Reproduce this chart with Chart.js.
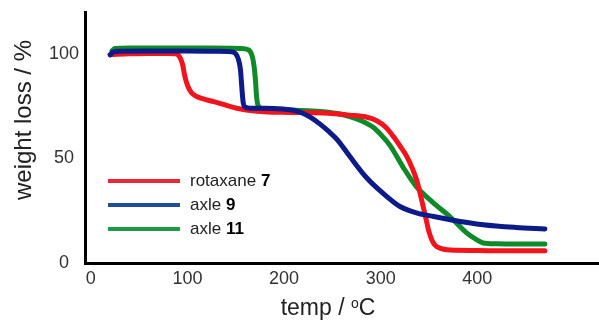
<!DOCTYPE html>
<html lang="en">
<head>
  <meta charset="UTF-8">
  <title>TGA weight loss</title>
  <script src="https://cdn.jsdelivr.net/npm/chart.js"></script>
  <style>
    body {
      margin: 0;
      padding: 0;
      background-color: #fff;
    }
    canvas {
      display: block;
    }
  </style>
</head>
<body>

  <canvas id="tgaChart" width="599" height="322"></canvas>

  <script>
    // series (temp in oC, weight in %)
    var redTemp = [20, 40, 60, 80, 88, 92, 95, 97, 100, 104, 110, 120, 130, 151, 172, 206, 240, 268, 285, 296, 305, 313, 320, 327, 333, 337, 341, 344, 347, 350, 353, 356, 362, 372, 400, 440, 470];
    var redWeight = [99.6, 100, 100.2, 100.2, 100, 98.5, 95, 90, 85, 81.5, 79.5, 78, 76.8, 74, 72.6, 72, 71.7, 70.7, 69.8, 68, 65, 60.6, 56, 51, 45, 40, 33, 27, 21, 15, 11, 8.7, 7, 6.2, 6, 5.8, 5.8];

    var blueTemp = [20, 23, 30, 60, 100, 130, 145, 150, 153, 155, 156, 157, 158, 160, 165, 180, 199, 210, 220, 228, 237, 246, 255, 268, 285, 302, 320, 337, 355, 372, 406, 440, 470];
    var blueWeight = [99.5, 100.8, 101.2, 101.3, 101.3, 101.2, 101, 100, 97, 92, 86, 80, 76, 74.5, 74, 74, 73.6, 73, 71.5, 69.5, 66.5, 63, 59, 51, 41, 33.5, 27, 24, 22.2, 20.7, 18.3, 17, 16.3];

    var greenTemp = [22, 25, 40, 80, 120, 155, 163, 167, 169, 170.5, 171.5, 173, 176, 182, 200, 234, 255, 268, 280, 292, 301, 310, 323, 337, 354, 372, 389, 398, 406, 420, 440, 470];
    var greenWeight = [101.5, 102.5, 102.8, 102.8, 102.8, 102.6, 102, 99, 94, 87, 80, 75.5, 74, 73.5, 73.2, 72.6, 71.5, 70, 68, 65, 61, 56, 46, 36.5, 29, 22, 14.4, 11.5, 9.6, 9.2, 9.1, 9.1];

    var seriesNames = ['rotaxane', 'axle', 'axle'];
    var seriesNumbers = ['7', '9', '11'];
    var lineColors = ['#f2141c', '#0c1a8a', '#0f8a28'];
    var legendColors = ['#e8283a', '#1f4d9a', '#1c9a48'];

    var xTicks = [0, 100, 200, 300, 400];
    var yTicks = [0, 50, 100];

    function toPoints(xs, ys) {
      return xs.map(function (x, i) { return { x: x, y: ys[i] }; });
    }

    // legend and axis titles drawn by hand
    var extrasPlugin = {
      id: 'extras',
      afterDraw: function (chart) {
        var ctx = chart.ctx;
        var area = chart.chartArea;
        ctx.save();

        // legend inside the plot
        [0, 1, 2].forEach(function (i) {
          var y = area.top + 169 + i * 24;
          var x0 = area.left + 23;
          ctx.strokeStyle = legendColors[i];
          ctx.lineWidth = 4;
          ctx.beginPath();
          ctx.moveTo(x0, y);
          ctx.lineTo(x0 + 72, y);
          ctx.stroke();

          ctx.textBaseline = 'middle';
          ctx.textAlign = 'left';
          ctx.font = '17px "Liberation Sans", Arial, sans-serif';
          ctx.fillStyle = '#222';
          var txt = seriesNames[i] + ' ';
          ctx.fillText(txt, x0 + 82, y);
          var w = ctx.measureText(txt).width;
          ctx.font = 'bold 17px "Liberation Sans", Arial, sans-serif';
          ctx.fillStyle = '#000';
          ctx.fillText(seriesNumbers[i], x0 + 82 + w, y);
        });

        // x title: temp / oC
        ctx.fillStyle = '#222';
        ctx.textBaseline = 'middle';
        ctx.font = '23px "Liberation Sans", Arial, sans-serif';
        var t1 = 'temp / ';
        var w1 = ctx.measureText(t1).width;
        ctx.font = '14px "Liberation Sans", Arial, sans-serif';
        var wo = ctx.measureText('o').width;
        ctx.font = '23px "Liberation Sans", Arial, sans-serif';
        var wc = ctx.measureText('C').width;
        var total = w1 + wo + wc;
        var xs = 328 - total / 2;
        var ty = 309;
        ctx.textAlign = 'left';
        ctx.fillText(t1, xs, ty);
        ctx.font = '14px "Liberation Sans", Arial, sans-serif';
        ctx.fillText('o', xs + w1, ty - 5);
        ctx.font = '23px "Liberation Sans", Arial, sans-serif';
        ctx.fillText('C', xs + w1 + wo, ty);

        // y title
        ctx.translate(24, 120);
        ctx.rotate(-Math.PI / 2);
        ctx.textAlign = 'center';
        ctx.font = '24px "Liberation Sans", Arial, sans-serif';
        ctx.fillText('weight loss / %', 0, 0);

        ctx.restore();
      }
    };

    var ctx = document.getElementById('tgaChart').getContext('2d');

    var tgaChart = new Chart(ctx, {
      type: 'line',
      data: {
        datasets: [
          { label: 'axle 9', data: toPoints(blueTemp, blueWeight), borderColor: lineColors[1] },
          { label: 'rotaxane 7', data: toPoints(redTemp, redWeight), borderColor: lineColors[0] },
          { label: 'axle 11', data: toPoints(greenTemp, greenWeight), borderColor: lineColors[2] }
        ]
      },
      options: {
        responsive: false,
        animation: false,
        layout: {
          padding: { top: 12, right: 0, left: 0, bottom: 0 }
        },
        elements: {
          point: { radius: 0 },
          line: {
            borderWidth: 5,
            cubicInterpolationMode: 'monotone',
            borderCapStyle: 'round',
            borderJoinStyle: 'round',
            fill: false
          }
        },
        plugins: {
          legend: { display: false },
          tooltip: { enabled: false }
        },
        scales: {
          x: {
            type: 'linear',
            min: -6,
            max: 526,
            afterBuildTicks: function (scale) {
              scale.ticks = xTicks.map(function (v) { return { value: v }; });
            },
            afterFit: function (scale) {
              scale.height = 59;
              scale.paddingLeft = 0;
              scale.paddingRight = 0;
            },
            grid: { display: false, drawTicks: false },
            border: { display: true, color: '#000', width: 3 },
            ticks: {
              padding: 5,
              maxRotation: 0,
              color: '#333',
              font: { size: 18, family: '"Liberation Sans", Arial, sans-serif' }
            }
          },
          y: {
            type: 'linear',
            min: 0,
            max: 120,
            afterBuildTicks: function (scale) {
              scale.ticks = yTicks.map(function (v) { return { value: v }; });
            },
            afterFit: function (scale) {
              scale.width = 85;
              scale.paddingTop = 0;
              scale.paddingBottom = 0;
            },
            grid: { display: false, drawTicks: false },
            border: { display: true, color: '#000', width: 3 },
            ticks: {
              padding: 6,
              crossAlign: 'center',
              color: '#333',
              font: { size: 18, family: '"Liberation Sans", Arial, sans-serif' }
            }
          }
        }
      },
      plugins: [extrasPlugin]
    });
  </script>

</body>
</html>
